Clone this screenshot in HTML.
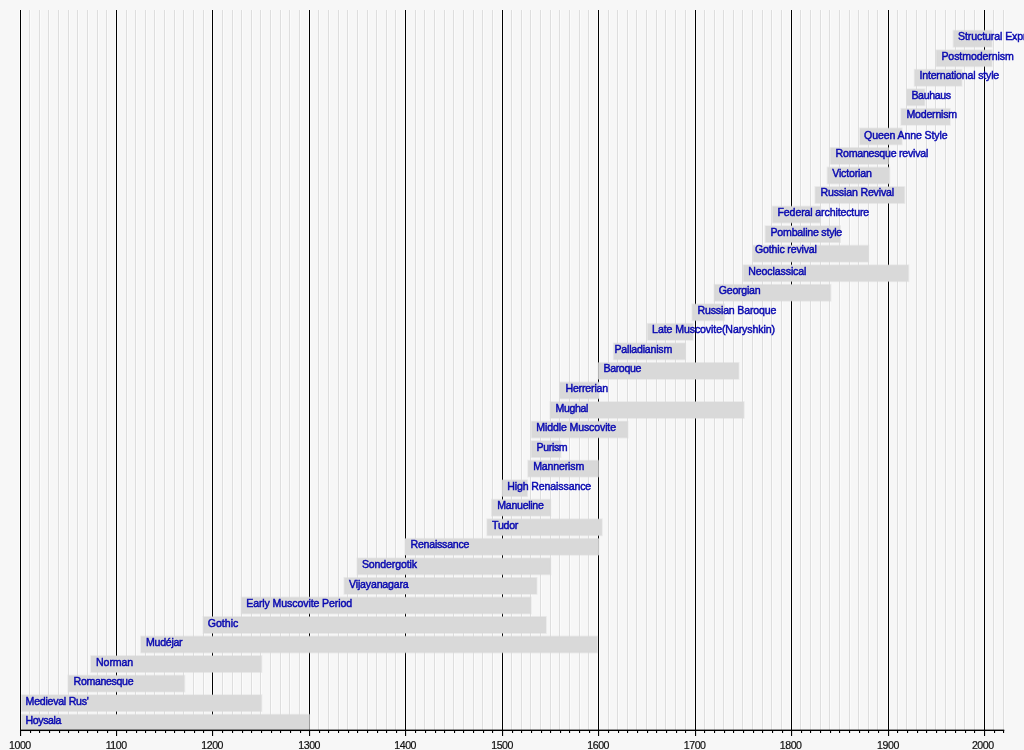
<!DOCTYPE html>
<html><head><meta charset="utf-8"><style>
html,body{margin:0;padding:0;background:#f7f7f7;}
body{width:1024px;height:750px;overflow:hidden;}
svg{display:block;will-change:transform;font-family:"Liberation Sans",sans-serif;}
.t text{fill:#0808b0;stroke:#0808b0;stroke-width:0.45px;font-size:10.6px;}
</style></head><body>
<svg width="1024" height="750" viewBox="0 0 1024 750">
<rect x="29" y="10" width="1" height="720" fill="#dedede"/>
<rect x="30" y="10" width="1" height="720" fill="#fbfbfb"/>
<rect x="39" y="10" width="1" height="720" fill="#dedede"/>
<rect x="40" y="10" width="1" height="720" fill="#fbfbfb"/>
<rect x="48" y="10" width="1" height="720" fill="#dedede"/>
<rect x="49" y="10" width="1" height="720" fill="#fbfbfb"/>
<rect x="58" y="10" width="1" height="720" fill="#dedede"/>
<rect x="59" y="10" width="1" height="720" fill="#fbfbfb"/>
<rect x="68" y="10" width="1" height="720" fill="#dedede"/>
<rect x="69" y="10" width="1" height="720" fill="#fbfbfb"/>
<rect x="77" y="10" width="1" height="720" fill="#dedede"/>
<rect x="78" y="10" width="1" height="720" fill="#fbfbfb"/>
<rect x="87" y="10" width="1" height="720" fill="#dedede"/>
<rect x="88" y="10" width="1" height="720" fill="#fbfbfb"/>
<rect x="97" y="10" width="1" height="720" fill="#dedede"/>
<rect x="98" y="10" width="1" height="720" fill="#fbfbfb"/>
<rect x="106" y="10" width="1" height="720" fill="#dedede"/>
<rect x="107" y="10" width="1" height="720" fill="#fbfbfb"/>
<rect x="126" y="10" width="1" height="720" fill="#dedede"/>
<rect x="127" y="10" width="1" height="720" fill="#fbfbfb"/>
<rect x="135" y="10" width="1" height="720" fill="#dedede"/>
<rect x="136" y="10" width="1" height="720" fill="#fbfbfb"/>
<rect x="145" y="10" width="1" height="720" fill="#dedede"/>
<rect x="146" y="10" width="1" height="720" fill="#fbfbfb"/>
<rect x="154" y="10" width="1" height="720" fill="#dedede"/>
<rect x="155" y="10" width="1" height="720" fill="#fbfbfb"/>
<rect x="164" y="10" width="1" height="720" fill="#dedede"/>
<rect x="165" y="10" width="1" height="720" fill="#fbfbfb"/>
<rect x="174" y="10" width="1" height="720" fill="#dedede"/>
<rect x="175" y="10" width="1" height="720" fill="#fbfbfb"/>
<rect x="183" y="10" width="1" height="720" fill="#dedede"/>
<rect x="184" y="10" width="1" height="720" fill="#fbfbfb"/>
<rect x="193" y="10" width="1" height="720" fill="#dedede"/>
<rect x="194" y="10" width="1" height="720" fill="#fbfbfb"/>
<rect x="203" y="10" width="1" height="720" fill="#dedede"/>
<rect x="204" y="10" width="1" height="720" fill="#fbfbfb"/>
<rect x="222" y="10" width="1" height="720" fill="#dedede"/>
<rect x="223" y="10" width="1" height="720" fill="#fbfbfb"/>
<rect x="232" y="10" width="1" height="720" fill="#dedede"/>
<rect x="233" y="10" width="1" height="720" fill="#fbfbfb"/>
<rect x="241" y="10" width="1" height="720" fill="#dedede"/>
<rect x="242" y="10" width="1" height="720" fill="#fbfbfb"/>
<rect x="251" y="10" width="1" height="720" fill="#dedede"/>
<rect x="252" y="10" width="1" height="720" fill="#fbfbfb"/>
<rect x="260" y="10" width="1" height="720" fill="#dedede"/>
<rect x="261" y="10" width="1" height="720" fill="#fbfbfb"/>
<rect x="270" y="10" width="1" height="720" fill="#dedede"/>
<rect x="271" y="10" width="1" height="720" fill="#fbfbfb"/>
<rect x="280" y="10" width="1" height="720" fill="#dedede"/>
<rect x="281" y="10" width="1" height="720" fill="#fbfbfb"/>
<rect x="289" y="10" width="1" height="720" fill="#dedede"/>
<rect x="290" y="10" width="1" height="720" fill="#fbfbfb"/>
<rect x="299" y="10" width="1" height="720" fill="#dedede"/>
<rect x="300" y="10" width="1" height="720" fill="#fbfbfb"/>
<rect x="318" y="10" width="1" height="720" fill="#dedede"/>
<rect x="319" y="10" width="1" height="720" fill="#fbfbfb"/>
<rect x="328" y="10" width="1" height="720" fill="#dedede"/>
<rect x="329" y="10" width="1" height="720" fill="#fbfbfb"/>
<rect x="338" y="10" width="1" height="720" fill="#dedede"/>
<rect x="339" y="10" width="1" height="720" fill="#fbfbfb"/>
<rect x="347" y="10" width="1" height="720" fill="#dedede"/>
<rect x="348" y="10" width="1" height="720" fill="#fbfbfb"/>
<rect x="357" y="10" width="1" height="720" fill="#dedede"/>
<rect x="358" y="10" width="1" height="720" fill="#fbfbfb"/>
<rect x="367" y="10" width="1" height="720" fill="#dedede"/>
<rect x="368" y="10" width="1" height="720" fill="#fbfbfb"/>
<rect x="376" y="10" width="1" height="720" fill="#dedede"/>
<rect x="377" y="10" width="1" height="720" fill="#fbfbfb"/>
<rect x="386" y="10" width="1" height="720" fill="#dedede"/>
<rect x="387" y="10" width="1" height="720" fill="#fbfbfb"/>
<rect x="395" y="10" width="1" height="720" fill="#dedede"/>
<rect x="396" y="10" width="1" height="720" fill="#fbfbfb"/>
<rect x="415" y="10" width="1" height="720" fill="#dedede"/>
<rect x="416" y="10" width="1" height="720" fill="#fbfbfb"/>
<rect x="424" y="10" width="1" height="720" fill="#dedede"/>
<rect x="425" y="10" width="1" height="720" fill="#fbfbfb"/>
<rect x="434" y="10" width="1" height="720" fill="#dedede"/>
<rect x="435" y="10" width="1" height="720" fill="#fbfbfb"/>
<rect x="444" y="10" width="1" height="720" fill="#dedede"/>
<rect x="445" y="10" width="1" height="720" fill="#fbfbfb"/>
<rect x="453" y="10" width="1" height="720" fill="#dedede"/>
<rect x="454" y="10" width="1" height="720" fill="#fbfbfb"/>
<rect x="463" y="10" width="1" height="720" fill="#dedede"/>
<rect x="464" y="10" width="1" height="720" fill="#fbfbfb"/>
<rect x="473" y="10" width="1" height="720" fill="#dedede"/>
<rect x="474" y="10" width="1" height="720" fill="#fbfbfb"/>
<rect x="482" y="10" width="1" height="720" fill="#dedede"/>
<rect x="483" y="10" width="1" height="720" fill="#fbfbfb"/>
<rect x="492" y="10" width="1" height="720" fill="#dedede"/>
<rect x="493" y="10" width="1" height="720" fill="#fbfbfb"/>
<rect x="511" y="10" width="1" height="720" fill="#dedede"/>
<rect x="512" y="10" width="1" height="720" fill="#fbfbfb"/>
<rect x="521" y="10" width="1" height="720" fill="#dedede"/>
<rect x="522" y="10" width="1" height="720" fill="#fbfbfb"/>
<rect x="530" y="10" width="1" height="720" fill="#dedede"/>
<rect x="531" y="10" width="1" height="720" fill="#fbfbfb"/>
<rect x="540" y="10" width="1" height="720" fill="#dedede"/>
<rect x="541" y="10" width="1" height="720" fill="#fbfbfb"/>
<rect x="550" y="10" width="1" height="720" fill="#dedede"/>
<rect x="551" y="10" width="1" height="720" fill="#fbfbfb"/>
<rect x="559" y="10" width="1" height="720" fill="#dedede"/>
<rect x="560" y="10" width="1" height="720" fill="#fbfbfb"/>
<rect x="569" y="10" width="1" height="720" fill="#dedede"/>
<rect x="570" y="10" width="1" height="720" fill="#fbfbfb"/>
<rect x="579" y="10" width="1" height="720" fill="#dedede"/>
<rect x="580" y="10" width="1" height="720" fill="#fbfbfb"/>
<rect x="588" y="10" width="1" height="720" fill="#dedede"/>
<rect x="589" y="10" width="1" height="720" fill="#fbfbfb"/>
<rect x="608" y="10" width="1" height="720" fill="#dedede"/>
<rect x="609" y="10" width="1" height="720" fill="#fbfbfb"/>
<rect x="617" y="10" width="1" height="720" fill="#dedede"/>
<rect x="618" y="10" width="1" height="720" fill="#fbfbfb"/>
<rect x="627" y="10" width="1" height="720" fill="#dedede"/>
<rect x="628" y="10" width="1" height="720" fill="#fbfbfb"/>
<rect x="636" y="10" width="1" height="720" fill="#dedede"/>
<rect x="637" y="10" width="1" height="720" fill="#fbfbfb"/>
<rect x="646" y="10" width="1" height="720" fill="#dedede"/>
<rect x="647" y="10" width="1" height="720" fill="#fbfbfb"/>
<rect x="656" y="10" width="1" height="720" fill="#dedede"/>
<rect x="657" y="10" width="1" height="720" fill="#fbfbfb"/>
<rect x="665" y="10" width="1" height="720" fill="#dedede"/>
<rect x="666" y="10" width="1" height="720" fill="#fbfbfb"/>
<rect x="675" y="10" width="1" height="720" fill="#dedede"/>
<rect x="676" y="10" width="1" height="720" fill="#fbfbfb"/>
<rect x="685" y="10" width="1" height="720" fill="#dedede"/>
<rect x="686" y="10" width="1" height="720" fill="#fbfbfb"/>
<rect x="704" y="10" width="1" height="720" fill="#dedede"/>
<rect x="705" y="10" width="1" height="720" fill="#fbfbfb"/>
<rect x="714" y="10" width="1" height="720" fill="#dedede"/>
<rect x="715" y="10" width="1" height="720" fill="#fbfbfb"/>
<rect x="723" y="10" width="1" height="720" fill="#dedede"/>
<rect x="724" y="10" width="1" height="720" fill="#fbfbfb"/>
<rect x="733" y="10" width="1" height="720" fill="#dedede"/>
<rect x="734" y="10" width="1" height="720" fill="#fbfbfb"/>
<rect x="742" y="10" width="1" height="720" fill="#dedede"/>
<rect x="743" y="10" width="1" height="720" fill="#fbfbfb"/>
<rect x="752" y="10" width="1" height="720" fill="#dedede"/>
<rect x="753" y="10" width="1" height="720" fill="#fbfbfb"/>
<rect x="762" y="10" width="1" height="720" fill="#dedede"/>
<rect x="763" y="10" width="1" height="720" fill="#fbfbfb"/>
<rect x="771" y="10" width="1" height="720" fill="#dedede"/>
<rect x="772" y="10" width="1" height="720" fill="#fbfbfb"/>
<rect x="781" y="10" width="1" height="720" fill="#dedede"/>
<rect x="782" y="10" width="1" height="720" fill="#fbfbfb"/>
<rect x="800" y="10" width="1" height="720" fill="#dedede"/>
<rect x="801" y="10" width="1" height="720" fill="#fbfbfb"/>
<rect x="810" y="10" width="1" height="720" fill="#dedede"/>
<rect x="811" y="10" width="1" height="720" fill="#fbfbfb"/>
<rect x="820" y="10" width="1" height="720" fill="#dedede"/>
<rect x="821" y="10" width="1" height="720" fill="#fbfbfb"/>
<rect x="829" y="10" width="1" height="720" fill="#dedede"/>
<rect x="830" y="10" width="1" height="720" fill="#fbfbfb"/>
<rect x="839" y="10" width="1" height="720" fill="#dedede"/>
<rect x="840" y="10" width="1" height="720" fill="#fbfbfb"/>
<rect x="849" y="10" width="1" height="720" fill="#dedede"/>
<rect x="850" y="10" width="1" height="720" fill="#fbfbfb"/>
<rect x="858" y="10" width="1" height="720" fill="#dedede"/>
<rect x="859" y="10" width="1" height="720" fill="#fbfbfb"/>
<rect x="868" y="10" width="1" height="720" fill="#dedede"/>
<rect x="869" y="10" width="1" height="720" fill="#fbfbfb"/>
<rect x="877" y="10" width="1" height="720" fill="#dedede"/>
<rect x="878" y="10" width="1" height="720" fill="#fbfbfb"/>
<rect x="897" y="10" width="1" height="720" fill="#dedede"/>
<rect x="898" y="10" width="1" height="720" fill="#fbfbfb"/>
<rect x="906" y="10" width="1" height="720" fill="#dedede"/>
<rect x="907" y="10" width="1" height="720" fill="#fbfbfb"/>
<rect x="916" y="10" width="1" height="720" fill="#dedede"/>
<rect x="917" y="10" width="1" height="720" fill="#fbfbfb"/>
<rect x="926" y="10" width="1" height="720" fill="#dedede"/>
<rect x="927" y="10" width="1" height="720" fill="#fbfbfb"/>
<rect x="935" y="10" width="1" height="720" fill="#dedede"/>
<rect x="936" y="10" width="1" height="720" fill="#fbfbfb"/>
<rect x="945" y="10" width="1" height="720" fill="#dedede"/>
<rect x="946" y="10" width="1" height="720" fill="#fbfbfb"/>
<rect x="955" y="10" width="1" height="720" fill="#dedede"/>
<rect x="956" y="10" width="1" height="720" fill="#fbfbfb"/>
<rect x="964" y="10" width="1" height="720" fill="#dedede"/>
<rect x="965" y="10" width="1" height="720" fill="#fbfbfb"/>
<rect x="974" y="10" width="1" height="720" fill="#dedede"/>
<rect x="975" y="10" width="1" height="720" fill="#fbfbfb"/>
<rect x="993" y="10" width="1" height="720" fill="#dedede"/>
<rect x="994" y="10" width="1" height="720" fill="#fbfbfb"/>
<rect x="1003" y="10" width="1" height="720" fill="#dedede"/>
<rect x="1004" y="10" width="1" height="720" fill="#fbfbfb"/>
<rect x="19" y="10" width="1" height="720" fill="#fcfcfc"/>
<rect x="21" y="10" width="1" height="720" fill="#fcfcfc"/>
<rect x="20" y="10" width="1" height="720" fill="#000"/>
<rect x="115" y="10" width="1" height="720" fill="#fcfcfc"/>
<rect x="117" y="10" width="1" height="720" fill="#fcfcfc"/>
<rect x="116" y="10" width="1" height="720" fill="#000"/>
<rect x="211" y="10" width="1" height="720" fill="#fcfcfc"/>
<rect x="213" y="10" width="1" height="720" fill="#fcfcfc"/>
<rect x="212" y="10" width="1" height="720" fill="#000"/>
<rect x="308" y="10" width="1" height="720" fill="#fcfcfc"/>
<rect x="310" y="10" width="1" height="720" fill="#fcfcfc"/>
<rect x="309" y="10" width="1" height="720" fill="#000"/>
<rect x="404" y="10" width="1" height="720" fill="#fcfcfc"/>
<rect x="406" y="10" width="1" height="720" fill="#fcfcfc"/>
<rect x="405" y="10" width="1" height="720" fill="#000"/>
<rect x="501" y="10" width="1" height="720" fill="#fcfcfc"/>
<rect x="503" y="10" width="1" height="720" fill="#fcfcfc"/>
<rect x="502" y="10" width="1" height="720" fill="#000"/>
<rect x="597" y="10" width="1" height="720" fill="#fcfcfc"/>
<rect x="599" y="10" width="1" height="720" fill="#fcfcfc"/>
<rect x="598" y="10" width="1" height="720" fill="#000"/>
<rect x="694" y="10" width="1" height="720" fill="#fcfcfc"/>
<rect x="696" y="10" width="1" height="720" fill="#fcfcfc"/>
<rect x="695" y="10" width="1" height="720" fill="#000"/>
<rect x="790" y="10" width="1" height="720" fill="#fcfcfc"/>
<rect x="792" y="10" width="1" height="720" fill="#fcfcfc"/>
<rect x="791" y="10" width="1" height="720" fill="#000"/>
<rect x="887" y="10" width="1" height="720" fill="#fcfcfc"/>
<rect x="889" y="10" width="1" height="720" fill="#fcfcfc"/>
<rect x="888" y="10" width="1" height="720" fill="#000"/>
<rect x="983" y="10" width="1" height="720" fill="#fcfcfc"/>
<rect x="985" y="10" width="1" height="720" fill="#fcfcfc"/>
<rect x="984" y="10" width="1" height="720" fill="#000"/>
<rect x="21.80" y="714.60" width="287.70" height="16.2" fill="#d9d9d9" stroke="#d9d9d9" stroke-opacity="0.45" stroke-width="1.6"/>
<rect x="21.80" y="695.06" width="239.70" height="16.2" fill="#d9d9d9" stroke="#d9d9d9" stroke-opacity="0.45" stroke-width="1.6"/>
<rect x="68.20" y="675.51" width="116.20" height="16.2" fill="#d9d9d9" stroke="#d9d9d9" stroke-opacity="0.45" stroke-width="1.6"/>
<rect x="91.00" y="655.97" width="170.50" height="16.2" fill="#d9d9d9" stroke="#d9d9d9" stroke-opacity="0.45" stroke-width="1.6"/>
<rect x="141.00" y="636.43" width="456.30" height="16.2" fill="#d9d9d9" stroke="#d9d9d9" stroke-opacity="0.45" stroke-width="1.6"/>
<rect x="203.30" y="616.88" width="342.70" height="16.2" fill="#d9d9d9" stroke="#d9d9d9" stroke-opacity="0.45" stroke-width="1.6"/>
<rect x="241.50" y="597.34" width="289.50" height="16.2" fill="#d9d9d9" stroke="#d9d9d9" stroke-opacity="0.45" stroke-width="1.6"/>
<rect x="344.30" y="577.80" width="192.40" height="16.2" fill="#d9d9d9" stroke="#d9d9d9" stroke-opacity="0.45" stroke-width="1.6"/>
<rect x="357.30" y="558.26" width="193.30" height="16.2" fill="#d9d9d9" stroke="#d9d9d9" stroke-opacity="0.45" stroke-width="1.6"/>
<rect x="405.00" y="538.71" width="193.80" height="16.2" fill="#d9d9d9" stroke="#d9d9d9" stroke-opacity="0.45" stroke-width="1.6"/>
<rect x="487.20" y="519.17" width="114.70" height="16.2" fill="#d9d9d9" stroke="#d9d9d9" stroke-opacity="0.45" stroke-width="1.6"/>
<rect x="491.80" y="499.63" width="58.80" height="16.2" fill="#d9d9d9" stroke="#d9d9d9" stroke-opacity="0.45" stroke-width="1.6"/>
<rect x="502.10" y="480.08" width="25.10" height="16.2" fill="#d9d9d9" stroke="#d9d9d9" stroke-opacity="0.45" stroke-width="1.6"/>
<rect x="528.10" y="460.54" width="70.40" height="16.2" fill="#d9d9d9" stroke="#d9d9d9" stroke-opacity="0.45" stroke-width="1.6"/>
<rect x="531.40" y="441.00" width="29.20" height="16.2" fill="#d9d9d9" stroke="#d9d9d9" stroke-opacity="0.45" stroke-width="1.6"/>
<rect x="531.60" y="421.46" width="96.20" height="16.2" fill="#d9d9d9" stroke="#d9d9d9" stroke-opacity="0.45" stroke-width="1.6"/>
<rect x="550.30" y="401.91" width="193.50" height="16.2" fill="#d9d9d9" stroke="#d9d9d9" stroke-opacity="0.45" stroke-width="1.6"/>
<rect x="559.90" y="382.37" width="39.10" height="16.2" fill="#d9d9d9" stroke="#d9d9d9" stroke-opacity="0.45" stroke-width="1.6"/>
<rect x="598.30" y="362.83" width="140.40" height="16.2" fill="#d9d9d9" stroke="#d9d9d9" stroke-opacity="0.45" stroke-width="1.6"/>
<rect x="613.70" y="343.28" width="71.80" height="16.2" fill="#d9d9d9" stroke="#d9d9d9" stroke-opacity="0.45" stroke-width="1.6"/>
<rect x="647.60" y="323.74" width="45.20" height="16.2" fill="#d9d9d9" stroke="#d9d9d9" stroke-opacity="0.45" stroke-width="1.6"/>
<rect x="692.30" y="304.20" width="32.00" height="16.2" fill="#d9d9d9" stroke="#d9d9d9" stroke-opacity="0.45" stroke-width="1.6"/>
<rect x="714.40" y="284.65" width="116.20" height="16.2" fill="#d9d9d9" stroke="#d9d9d9" stroke-opacity="0.45" stroke-width="1.6"/>
<rect x="743.50" y="265.11" width="164.90" height="16.2" fill="#d9d9d9" stroke="#d9d9d9" stroke-opacity="0.45" stroke-width="1.6"/>
<rect x="753.20" y="245.57" width="115.30" height="16.2" fill="#d9d9d9" stroke="#d9d9d9" stroke-opacity="0.45" stroke-width="1.6"/>
<rect x="765.50" y="226.03" width="74.70" height="16.2" fill="#d9d9d9" stroke="#d9d9d9" stroke-opacity="0.45" stroke-width="1.6"/>
<rect x="772.60" y="206.48" width="47.80" height="16.2" fill="#d9d9d9" stroke="#d9d9d9" stroke-opacity="0.45" stroke-width="1.6"/>
<rect x="815.30" y="186.94" width="89.10" height="16.2" fill="#d9d9d9" stroke="#d9d9d9" stroke-opacity="0.45" stroke-width="1.6"/>
<rect x="827.50" y="167.40" width="62.00" height="16.2" fill="#d9d9d9" stroke="#d9d9d9" stroke-opacity="0.45" stroke-width="1.6"/>
<rect x="830.50" y="147.85" width="58.10" height="16.2" fill="#d9d9d9" stroke="#d9d9d9" stroke-opacity="0.45" stroke-width="1.6"/>
<rect x="859.90" y="128.31" width="41.90" height="16.2" fill="#d9d9d9" stroke="#d9d9d9" stroke-opacity="0.45" stroke-width="1.6"/>
<rect x="901.20" y="108.77" width="48.80" height="16.2" fill="#d9d9d9" stroke="#d9d9d9" stroke-opacity="0.45" stroke-width="1.6"/>
<rect x="907.00" y="89.22" width="17.60" height="16.2" fill="#d9d9d9" stroke="#d9d9d9" stroke-opacity="0.45" stroke-width="1.6"/>
<rect x="914.60" y="69.68" width="47.10" height="16.2" fill="#d9d9d9" stroke="#d9d9d9" stroke-opacity="0.45" stroke-width="1.6"/>
<rect x="936.30" y="50.14" width="55.50" height="16.2" fill="#d9d9d9" stroke="#d9d9d9" stroke-opacity="0.45" stroke-width="1.6"/>
<rect x="953.50" y="30.60" width="38.30" height="16.2" fill="#d9d9d9" stroke="#d9d9d9" stroke-opacity="0.45" stroke-width="1.6"/>
<rect x="20" y="729.6" width="984.28" height="1.4" fill="#000"/>
<rect x="20" y="730" width="1.1" height="6" fill="#000"/>
<rect x="30" y="730" width="1.1" height="3" fill="#000"/>
<rect x="39" y="730" width="1.1" height="3" fill="#000"/>
<rect x="49" y="730" width="1.1" height="3" fill="#000"/>
<rect x="59" y="730" width="1.1" height="3" fill="#000"/>
<rect x="68" y="730" width="1.1" height="3" fill="#000"/>
<rect x="78" y="730" width="1.1" height="3" fill="#000"/>
<rect x="87" y="730" width="1.1" height="3" fill="#000"/>
<rect x="97" y="730" width="1.1" height="3" fill="#000"/>
<rect x="107" y="730" width="1.1" height="3" fill="#000"/>
<rect x="116" y="730" width="1.1" height="6" fill="#000"/>
<rect x="126" y="730" width="1.1" height="3" fill="#000"/>
<rect x="136" y="730" width="1.1" height="3" fill="#000"/>
<rect x="145" y="730" width="1.1" height="3" fill="#000"/>
<rect x="155" y="730" width="1.1" height="3" fill="#000"/>
<rect x="165" y="730" width="1.1" height="3" fill="#000"/>
<rect x="174" y="730" width="1.1" height="3" fill="#000"/>
<rect x="184" y="730" width="1.1" height="3" fill="#000"/>
<rect x="194" y="730" width="1.1" height="3" fill="#000"/>
<rect x="203" y="730" width="1.1" height="3" fill="#000"/>
<rect x="212" y="730" width="1.1" height="6" fill="#000"/>
<rect x="222" y="730" width="1.1" height="3" fill="#000"/>
<rect x="232" y="730" width="1.1" height="3" fill="#000"/>
<rect x="242" y="730" width="1.1" height="3" fill="#000"/>
<rect x="251" y="730" width="1.1" height="3" fill="#000"/>
<rect x="261" y="730" width="1.1" height="3" fill="#000"/>
<rect x="271" y="730" width="1.1" height="3" fill="#000"/>
<rect x="280" y="730" width="1.1" height="3" fill="#000"/>
<rect x="290" y="730" width="1.1" height="3" fill="#000"/>
<rect x="300" y="730" width="1.1" height="3" fill="#000"/>
<rect x="309" y="730" width="1.1" height="6" fill="#000"/>
<rect x="319" y="730" width="1.1" height="3" fill="#000"/>
<rect x="328" y="730" width="1.1" height="3" fill="#000"/>
<rect x="338" y="730" width="1.1" height="3" fill="#000"/>
<rect x="348" y="730" width="1.1" height="3" fill="#000"/>
<rect x="357" y="730" width="1.1" height="3" fill="#000"/>
<rect x="367" y="730" width="1.1" height="3" fill="#000"/>
<rect x="377" y="730" width="1.1" height="3" fill="#000"/>
<rect x="386" y="730" width="1.1" height="3" fill="#000"/>
<rect x="396" y="730" width="1.1" height="3" fill="#000"/>
<rect x="405" y="730" width="1.1" height="6" fill="#000"/>
<rect x="415" y="730" width="1.1" height="3" fill="#000"/>
<rect x="425" y="730" width="1.1" height="3" fill="#000"/>
<rect x="435" y="730" width="1.1" height="3" fill="#000"/>
<rect x="444" y="730" width="1.1" height="3" fill="#000"/>
<rect x="454" y="730" width="1.1" height="3" fill="#000"/>
<rect x="463" y="730" width="1.1" height="3" fill="#000"/>
<rect x="473" y="730" width="1.1" height="3" fill="#000"/>
<rect x="483" y="730" width="1.1" height="3" fill="#000"/>
<rect x="492" y="730" width="1.1" height="3" fill="#000"/>
<rect x="502" y="730" width="1.1" height="6" fill="#000"/>
<rect x="512" y="730" width="1.1" height="3" fill="#000"/>
<rect x="521" y="730" width="1.1" height="3" fill="#000"/>
<rect x="531" y="730" width="1.1" height="3" fill="#000"/>
<rect x="541" y="730" width="1.1" height="3" fill="#000"/>
<rect x="550" y="730" width="1.1" height="3" fill="#000"/>
<rect x="560" y="730" width="1.1" height="3" fill="#000"/>
<rect x="569" y="730" width="1.1" height="3" fill="#000"/>
<rect x="579" y="730" width="1.1" height="3" fill="#000"/>
<rect x="589" y="730" width="1.1" height="3" fill="#000"/>
<rect x="598" y="730" width="1.1" height="6" fill="#000"/>
<rect x="608" y="730" width="1.1" height="3" fill="#000"/>
<rect x="618" y="730" width="1.1" height="3" fill="#000"/>
<rect x="627" y="730" width="1.1" height="3" fill="#000"/>
<rect x="637" y="730" width="1.1" height="3" fill="#000"/>
<rect x="647" y="730" width="1.1" height="3" fill="#000"/>
<rect x="656" y="730" width="1.1" height="3" fill="#000"/>
<rect x="666" y="730" width="1.1" height="3" fill="#000"/>
<rect x="676" y="730" width="1.1" height="3" fill="#000"/>
<rect x="685" y="730" width="1.1" height="3" fill="#000"/>
<rect x="695" y="730" width="1.1" height="6" fill="#000"/>
<rect x="704" y="730" width="1.1" height="3" fill="#000"/>
<rect x="714" y="730" width="1.1" height="3" fill="#000"/>
<rect x="724" y="730" width="1.1" height="3" fill="#000"/>
<rect x="733" y="730" width="1.1" height="3" fill="#000"/>
<rect x="743" y="730" width="1.1" height="3" fill="#000"/>
<rect x="753" y="730" width="1.1" height="3" fill="#000"/>
<rect x="762" y="730" width="1.1" height="3" fill="#000"/>
<rect x="772" y="730" width="1.1" height="3" fill="#000"/>
<rect x="782" y="730" width="1.1" height="3" fill="#000"/>
<rect x="791" y="730" width="1.1" height="6" fill="#000"/>
<rect x="801" y="730" width="1.1" height="3" fill="#000"/>
<rect x="810" y="730" width="1.1" height="3" fill="#000"/>
<rect x="820" y="730" width="1.1" height="3" fill="#000"/>
<rect x="830" y="730" width="1.1" height="3" fill="#000"/>
<rect x="839" y="730" width="1.1" height="3" fill="#000"/>
<rect x="849" y="730" width="1.1" height="3" fill="#000"/>
<rect x="859" y="730" width="1.1" height="3" fill="#000"/>
<rect x="868" y="730" width="1.1" height="3" fill="#000"/>
<rect x="878" y="730" width="1.1" height="3" fill="#000"/>
<rect x="888" y="730" width="1.1" height="6" fill="#000"/>
<rect x="897" y="730" width="1.1" height="3" fill="#000"/>
<rect x="907" y="730" width="1.1" height="3" fill="#000"/>
<rect x="917" y="730" width="1.1" height="3" fill="#000"/>
<rect x="926" y="730" width="1.1" height="3" fill="#000"/>
<rect x="936" y="730" width="1.1" height="3" fill="#000"/>
<rect x="945" y="730" width="1.1" height="3" fill="#000"/>
<rect x="955" y="730" width="1.1" height="3" fill="#000"/>
<rect x="965" y="730" width="1.1" height="3" fill="#000"/>
<rect x="974" y="730" width="1.1" height="3" fill="#000"/>
<rect x="984" y="730" width="1.1" height="6" fill="#000"/>
<rect x="994" y="730" width="1.1" height="3" fill="#000"/>
<rect x="1003" y="730" width="1.1" height="3" fill="#000"/>
<text x="19.90" y="748.6" text-anchor="middle" fill="#111" stroke="#111" stroke-width="0.2" font-size="10.6" letter-spacing="-0.45">1000</text>
<text x="116.20" y="748.6" text-anchor="middle" fill="#111" stroke="#111" stroke-width="0.2" font-size="10.6" letter-spacing="-0.45">1100</text>
<text x="212.20" y="748.6" text-anchor="middle" fill="#111" stroke="#111" stroke-width="0.2" font-size="10.6" letter-spacing="-0.45">1200</text>
<text x="309.20" y="748.6" text-anchor="middle" fill="#111" stroke="#111" stroke-width="0.2" font-size="10.6" letter-spacing="-0.45">1300</text>
<text x="405.20" y="748.6" text-anchor="middle" fill="#111" stroke="#111" stroke-width="0.2" font-size="10.6" letter-spacing="-0.45">1400</text>
<text x="502.10" y="748.6" text-anchor="middle" fill="#111" stroke="#111" stroke-width="0.2" font-size="10.6" letter-spacing="-0.45">1500</text>
<text x="598.20" y="748.6" text-anchor="middle" fill="#111" stroke="#111" stroke-width="0.2" font-size="10.6" letter-spacing="-0.45">1600</text>
<text x="694.70" y="748.6" text-anchor="middle" fill="#111" stroke="#111" stroke-width="0.2" font-size="10.6" letter-spacing="-0.45">1700</text>
<text x="790.70" y="748.6" text-anchor="middle" fill="#111" stroke="#111" stroke-width="0.2" font-size="10.6" letter-spacing="-0.45">1800</text>
<text x="888.00" y="748.6" text-anchor="middle" fill="#111" stroke="#111" stroke-width="0.2" font-size="10.6" letter-spacing="-0.45">1900</text>
<text x="982.80" y="748.6" text-anchor="middle" fill="#111" stroke="#111" stroke-width="0.2" font-size="10.6" letter-spacing="-0.45">2000</text>
<g class="t">
<text x="25.60" y="724.10" textLength="35.60" lengthAdjust="spacing" letter-spacing="-0.25">Hoysala</text>
<text x="25.60" y="704.80" textLength="62.90" lengthAdjust="spacing" letter-spacing="-0.25">Medieval Rus'</text>
<text x="73.60" y="684.90" textLength="59.70" lengthAdjust="spacing" letter-spacing="-0.25">Romanesque</text>
<text x="96.10" y="665.80" textLength="36.80" lengthAdjust="spacing" letter-spacing="-0.25">Norman</text>
<text x="146.10" y="646.00" textLength="36.20" lengthAdjust="spacing" letter-spacing="-0.25">Mudéjar</text>
<text x="207.70" y="626.90" textLength="30.40" lengthAdjust="spacing" letter-spacing="-0.25">Gothic</text>
<text x="246.20" y="606.90" textLength="105.70" lengthAdjust="spacing" letter-spacing="-0.25">Early Muscovite Period</text>
<text x="349.10" y="587.90" textLength="59.40" lengthAdjust="spacing" letter-spacing="-0.25">Vijayanagara</text>
<text x="361.90" y="567.80" textLength="54.90" lengthAdjust="spacing" letter-spacing="-0.25">Sondergotik</text>
<text x="410.50" y="548.00" textLength="58.70" lengthAdjust="spacing" letter-spacing="-0.25">Renaissance</text>
<text x="492.10" y="528.70" textLength="26.00" lengthAdjust="spacing" letter-spacing="-0.25">Tudor</text>
<text x="497.30" y="509.00" textLength="46.30" lengthAdjust="spacing" letter-spacing="-0.25">Manueline</text>
<text x="507.20" y="490.00" textLength="83.80" lengthAdjust="spacing" letter-spacing="-0.25">High Renaissance</text>
<text x="533.20" y="469.80" textLength="50.80" lengthAdjust="spacing" letter-spacing="-0.25">Mannerism</text>
<text x="536.50" y="450.60" textLength="30.90" lengthAdjust="spacing" letter-spacing="-0.25">Purism</text>
<text x="536.30" y="431.00" textLength="79.50" lengthAdjust="spacing" letter-spacing="-0.25">Middle Muscovite</text>
<text x="555.50" y="412.20" textLength="32.60" lengthAdjust="spacing" letter-spacing="-0.25">Mughal</text>
<text x="565.40" y="392.00" textLength="42.60" lengthAdjust="spacing" letter-spacing="-0.25">Herrerian</text>
<text x="603.40" y="371.80" textLength="37.80" lengthAdjust="spacing" letter-spacing="-0.25">Baroque</text>
<text x="614.50" y="352.90" textLength="57.50" lengthAdjust="spacing" letter-spacing="-0.25">Palladianism</text>
<text x="652.10" y="333.10" textLength="122.70" lengthAdjust="spacing" letter-spacing="-0.25">Late Muscovite(Naryshkin)</text>
<text x="697.50" y="313.90" textLength="78.70" lengthAdjust="spacing" letter-spacing="-0.25">Russian Baroque</text>
<text x="718.80" y="294.20" textLength="41.60" lengthAdjust="spacing" letter-spacing="-0.25">Georgian</text>
<text x="748.20" y="274.80" textLength="58.00" lengthAdjust="spacing" letter-spacing="-0.25">Neoclassical</text>
<text x="755.00" y="253.00" textLength="61.60" lengthAdjust="spacing" letter-spacing="-0.25">Gothic revival</text>
<text x="770.50" y="236.10" textLength="71.50" lengthAdjust="spacing" letter-spacing="-0.25">Pombaline style</text>
<text x="777.50" y="215.80" textLength="91.50" lengthAdjust="spacing" letter-spacing="-0.25">Federal architecture</text>
<text x="820.50" y="195.70" textLength="73.40" lengthAdjust="spacing" letter-spacing="-0.25">Russian Revival</text>
<text x="832.20" y="177.20" textLength="39.40" lengthAdjust="spacing" letter-spacing="-0.25">Victorian</text>
<text x="835.60" y="156.90" textLength="92.40" lengthAdjust="spacing" letter-spacing="-0.25">Romanesque revival</text>
<text x="864.10" y="138.50" textLength="83.20" lengthAdjust="spacing" letter-spacing="-0.25">Queen Anne Style</text>
<text x="906.40" y="117.70" textLength="50.50" lengthAdjust="spacing" letter-spacing="-0.25">Modernism</text>
<text x="911.40" y="98.70" textLength="39.40" lengthAdjust="spacing" letter-spacing="-0.25">Bauhaus</text>
<text x="919.40" y="79.00" textLength="79.60" lengthAdjust="spacing" letter-spacing="-0.25">International style</text>
<text x="941.40" y="59.90" textLength="72.10" lengthAdjust="spacing" letter-spacing="-0.25">Postmodernism</text>
<text x="958.00" y="39.90" textLength="114.5" lengthAdjust="spacing" letter-spacing="-0.25">Structural Expressionism</text>
</g>
</svg>
</body></html>
